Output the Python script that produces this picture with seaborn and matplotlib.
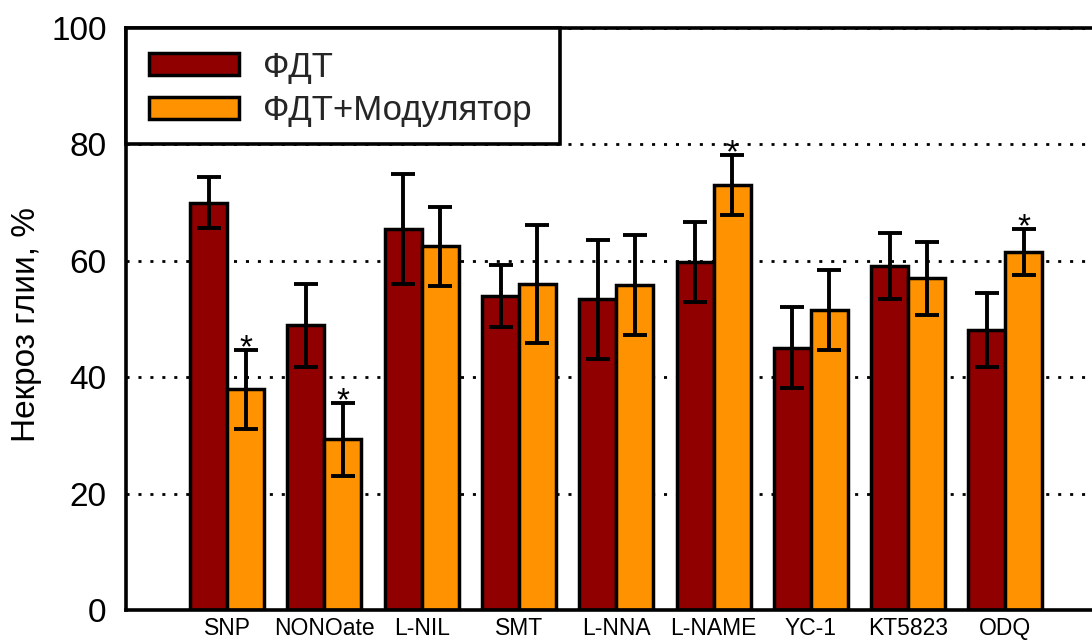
import numpy as np
import pandas as pd
import matplotlib
matplotlib.use("Agg")
import matplotlib.pyplot as plt
import matplotlib.patches as mpatches
import seaborn as sns

categories = ["SNP", "NONOate", "L-NIL", "SMT", "L-NNA", "L-NAME", "YC-1", "KT5823", "ODQ"]
groups = ["ФДТ", "ФДТ+Модулятор"]
pdt_mean = [70.0, 48.9, 65.5, 53.9, 53.4, 59.8, 45.1, 59.1, 48.1]
pdt_err = [4.4, 7.1, 9.5, 5.3, 10.2, 6.8, 7.0, 5.6, 6.3]
mod_mean = [37.9, 29.3, 62.5, 56.0, 55.9, 73.0, 51.5, 57.0, 61.5]
mod_err = [6.8, 6.3, 6.8, 10.2, 8.6, 5.1, 6.9, 6.3, 3.9]
mod_signif = [True, True, False, False, False, True, False, False, True]
y_ticks = [0, 20, 40, 60, 80, 100]

colors = ["#900000", "#FF9200"]

sns.set_theme(style="white")
plt.rcParams['font.family'] = ['Liberation Sans', 'DejaVu Sans']

df = pd.DataFrame({
    "cat": categories * 2,
    "grp": [groups[0]] * len(categories) + [groups[1]] * len(categories),
    "val": pdt_mean + mod_mean,
})

fig = plt.figure(figsize=(10.92, 6.43), dpi=100)
ax = fig.add_axes([126 / 1092, 1 - 610 / 643, 1 - 126 / 1092, (610 - 28) / 643])

sns.barplot(data=df, x="cat", y="val", hue="grp", palette=colors, width=0.76,
            saturation=1, edgecolor="black", linewidth=2.5, errorbar=None, ax=ax,
            order=categories, hue_order=groups, zorder=2)

means = [pdt_mean, mod_mean]
errs = [pdt_err, mod_err]
bar_containers = list(ax.containers)
for gi, cont in enumerate(bar_containers):
    xs = [p.get_x() + p.get_width() / 2 for p in cont.patches]
    ax.errorbar(xs, means[gi], yerr=errs[gi], fmt="none", ecolor="black",
                elinewidth=2.8, capsize=8.6, capthick=2.8, zorder=4)
    if gi == 1:
        for x, m, e, s in zip(xs, mod_mean, mod_err, mod_signif):
            if s:
                ax.text(x, m + e - 1.2, "*", ha="center", va="baseline",
                        fontsize=24, color="black", zorder=5)

ax.set_ylim(0, 100)
ax.set_xlim(-1.04, 8.89)
ax.set_yticks(y_ticks)
ax.yaxis.grid(True, linestyle=(0, (1.1, 3.2)), color="black", linewidth=2.0)
ax.xaxis.grid(False)
ax.set_axisbelow(True)

for side in ["left", "bottom", "top"]:
    ax.spines[side].set_visible(True)
    ax.spines[side].set_color("black")
    ax.spines[side].set_linewidth(2.6)
ax.spines["right"].set_visible(False)

ax.tick_params(axis="y", length=0, pad=14, labelsize=24, colors="black")
ax.tick_params(axis="x", length=0, pad=5, labelsize=16.5, colors="black")
ax.set_xlabel("")
ax.set_ylabel("Некроз глии, %", fontsize=24, color="black")
ax.yaxis.set_label_coords(-0.087, 0.49)

# legend box
rect = mpatches.Rectangle((0, 0.8), (560 - 126) / 966, 0.2, transform=ax.transAxes,
                          facecolor="white", edgecolor="black", linewidth=2.6,
                          zorder=6, clip_on=False)
ax.add_patch(rect)
handles, labels = ax.get_legend_handles_labels()
leg = ax.legend(handles, labels, loc="upper left", bbox_to_anchor=(0.0, 1.0),
                frameon=False, fontsize=25, handlelength=2.6, handleheight=0.6,
                labelspacing=0.3, handletextpad=0.7, borderpad=0.35, borderaxespad=0.3)
leg.set_zorder(7)

fig.savefig("out.png", dpi=100)
